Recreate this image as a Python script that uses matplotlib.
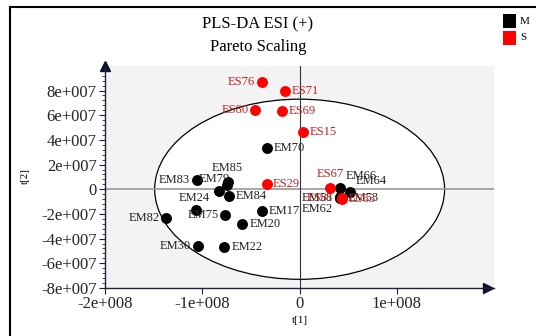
import matplotlib
matplotlib.use("Agg")
import matplotlib.pyplot as plt
from matplotlib.patches import Ellipse, Rectangle
from matplotlib.ticker import AutoMinorLocator

plt.rcParams['font.family'] = ['Liberation Serif', 'DejaVu Serif']

# score values
m_names = ['EM70', 'EM83', 'EM85', 'EM79', 'EM24', 'EM84', 'EM09', 'EM75', 'EM82',
           'EM17', 'EM20', 'EM30', 'EM22', 'EM66', 'EM64', 'EM62', 'EM58', 'EM53']
m_t1 = [-3.37e7, -1.06e8, -7.40e7, -7.50e7, -8.27e7, -7.28e7, -1.064e8, -7.63e7, -1.37e8,
        -3.88e7, -5.88e7, -1.046e8, -7.73e7, 4.16e7, 5.19e7, 4.16e7, 4.10e7, 4.20e7]
m_t2 = [3.37e7, 7.3e6, 5.7e6, 3.6e6, -1.4e6, -5.7e6, -1.67e7, -2.10e7, -2.32e7,
        -1.80e7, -2.85e7, -4.60e7, -4.66e7, 0.8e6, -2.4e6, -6.5e6, -6.8e6, -7.0e6]

s_names = ['ES76', 'ES71', 'ES80', 'ES69', 'ES15', 'ES29', 'ES67', 'ES81', 'ES63']
s_t1 = [-3.9e7, -1.5e7, -4.55e7, -1.8e7, 3.6e6, -3.34e7, 3.13e7, 4.34e7, 4.40e7]
s_t2 = [8.7e7, 8.0e7, 6.44e7, 6.33e7, 4.6e7, 4.3e6, 0.8e6, -7.3e6, -7.6e6]

class_names = ['M', 'S']
class_colors = ['black', 'red']

xticks = [-2e8, -1e8, 0, 1e8]
xtick_labels = ['-2e+008', '-1e+008', '0', '1e+008']
yticks = [-8e7, -6e7, -4e7, -2e7, 0, 2e7, 4e7, 6e7, 8e7]
ytick_labels = ['-8e+007', '-6e+007', '-4e+007', '-2e+007', '0',
                '2e+007', '4e+007', '6e+007', '8e+007']

# Hotelling ellipse semi axes
ell_a, ell_b = 1.49e8, 7.3e7

# label placement: (dx, dy in points, ha)
lab_pos = {
    'ES76': (-5, 0, 'right'), 'ES71': (5, 0, 'left'), 'ES80': (-5, 0, 'right'),
    'ES69': (5, 0, 'left'), 'ES15': (5, 0, 'left'), 'EM70': (5, 0, 'left'),
    'EM83': (-4.5, 0, 'right'), 'EM79': (2, 4, 'right'), 'EM85': (0, 10, 'center'),
    'ES29': (4, 0, 'left'), 'EM24': (-7, -5, 'right'), 'EM84': (5, 0, 'left'),
    'EM75': (-5, 0, 'right'), 'EM82': (-4.5, 0, 'right'), 'EM17': (5, 0, 'left'),
    'EM20': (5, 0, 'left'), 'EM30': (-5, 0, 'right'), 'EM22': (5, 0, 'left'),
    'ES67': (0, 10, 'center'), 'EM66': (4, 9, 'left'), 'EM64': (4, 8, 'left'),
    'EM62': (-5, -8.5, 'right'), 'EM58': (-5, 0, 'right'), 'EM53': (5, 0, 'left'),
    'ES81': (-6, 0, 'right'), 'ES63': (4.5, 0, 'left'),
}

fig = plt.figure(figsize=(5.36, 3.36), dpi=100)
ax = fig.add_axes([0.196, 0.143, 0.726, 0.661])
ax.set_facecolor('#f3f3f3')

ax.add_patch(Ellipse((0, 0), 2 * ell_a, 2 * ell_b, facecolor='white',
                     edgecolor='black', linewidth=0.9, zorder=1))
ax.axhline(0, color='#9a9a9a', linewidth=1.2, zorder=2)
ax.axvline(0, color='#303048', linewidth=0.8, zorder=2)

ax.scatter(m_t1, m_t2, s=62, color=class_colors[0], zorder=3, linewidths=0)
ax.scatter(s_t1, s_t2, s=62, color=class_colors[1], zorder=4, linewidths=0)

for names, xs, ys, tc in [(m_names, m_t1, m_t2, '#222222'), (s_names, s_t1, s_t2, '#c02020')]:
    for n, x, y in zip(names, xs, ys):
        if n not in lab_pos:
            continue
        dx, dy, ha = lab_pos[n]
        ax.annotate(n, (x, y), xytext=(dx, dy), textcoords='offset points',
                    ha=ha, va='center', fontsize=9, color=tc, zorder=5)

ax.set_xlim(-2e8, 2e8)
ax.set_ylim(-8e7, 1e8)
ax.set_xticks(xticks)
ax.set_xticklabels(xtick_labels)
ax.set_yticks(yticks)
ax.set_yticklabels(ytick_labels)
ax.yaxis.set_minor_locator(AutoMinorLocator(5))
ax.tick_params(axis='both', labelsize=12, colors='#222233', length=4, width=0.8, pad=2)
ax.tick_params(axis='y', which='minor', length=2, width=0.6, colors='#222233')
for side in ['top', 'right']:
    ax.spines[side].set_visible(False)
for side in ['left', 'bottom']:
    ax.spines[side].set_color('#202040')
    ax.spines[side].set_linewidth(1.0)
ax.plot(0, 1, marker='^', markersize=7, color='#101030', transform=ax.transAxes, clip_on=False)
ax.plot(0.985, 0, marker='>', markersize=7, color='#101030', transform=ax.transAxes, clip_on=False)

ax.set_xlabel('t[1]', fontsize=8, labelpad=3)
fig.text(0.047, 0.476, 't[2]', fontsize=8, rotation=90, ha='center', va='center')

fig.text(0.481, 0.926, 'PLS-DA ESI (+)', fontsize=12, ha='center', va='center')
fig.text(0.481, 0.860, 'Pareto Scaling', fontsize=12, ha='center', va='center')

# legend boxes
for i, (nm, col) in enumerate(zip(class_names, class_colors)):
    yb = 0.917 - i * 0.05
    fig.patches.append(Rectangle((0.938, yb), 0.025, 0.04, transform=fig.transFigure,
                                 facecolor=col, edgecolor='none'))
    fig.text(0.97, yb + 0.02, nm, fontsize=8, ha='left', va='center')

# frame
fig.add_artist(plt.Line2D([0.019, 1.0], [0.979, 0.979], color='black', linewidth=1.5))
fig.add_artist(plt.Line2D([0.019, 0.019], [0.0, 0.979], color='black', linewidth=1.5))

fig.savefig('out.png', dpi=100)
